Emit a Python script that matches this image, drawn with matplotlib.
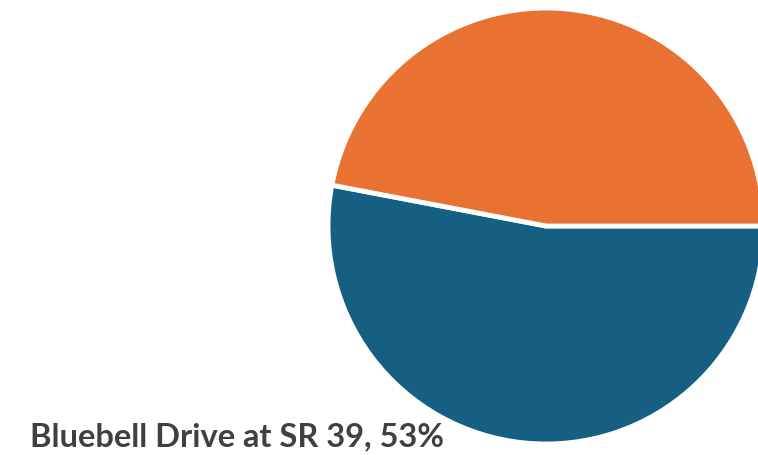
import matplotlib.pyplot as plt

labels = ['Bluebell Drive at SR 39', 'Other']
values = [53, 47]
colors = ['#156082', '#E97132']

W, H = 758, 456
fig = plt.figure(figsize=(W / 100, H / 100), dpi=100)

# pie centre and radius in pixels
cx, cy, r = 546, 227, 218
ax = fig.add_axes([(cx - r) / W, (H - cy - r) / H, 2 * r / W, 2 * r / H])
ax.pie(values, colors=colors, startangle=0, counterclock=False,
       wedgeprops=dict(edgecolor='white', linewidth=3.5), radius=1)
ax.set_xlim(-1, 1)
ax.set_ylim(-1, 1)
ax.set_aspect('equal')
ax.axis('off')
for p in ax.patches:
    p.set_clip_on(False)

fig.text(30 / W, (H - 446) / H, f'{labels[0]}, {values[0]}%', fontsize=23.5,
         fontweight='bold', color='#404040', family='Lato', va='baseline')

fig.savefig('out.png', dpi=100)
